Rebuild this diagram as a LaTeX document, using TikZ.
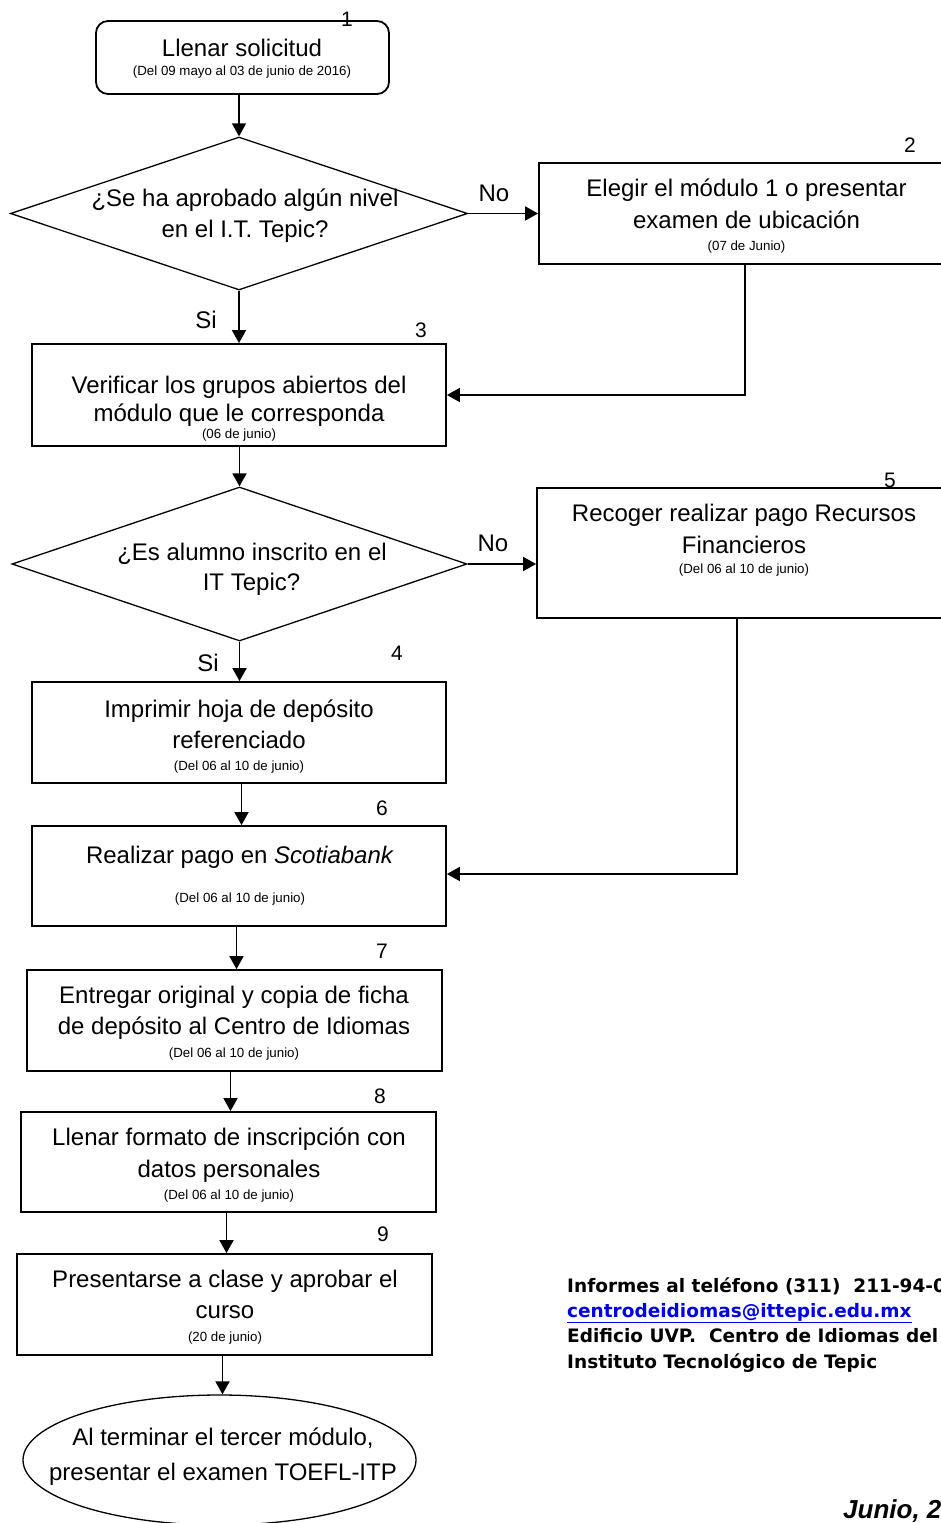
\documentclass[tikz,border=0pt]{standalone}
\usepackage{fontspec}
\setmainfont{Liberation Sans}
\newfontfamily\infofont{DejaVu Sans}
\usetikzlibrary{arrows.meta,shapes.geometric}
\definecolor{linkblue}{RGB}{0,0,230}
\begin{document}
\begin{tikzpicture}[x=1pt,y=-1pt,
  box/.style={draw, rectangle, line width=1.8pt, inner sep=0pt},
  dia/.style={draw, diamond, line width=1.3pt, inner sep=0pt},
  arr/.style={line width=1.8pt, -{Triangle[width=14pt,length=13pt]}},
  wire/.style={line width=1.8pt},
  big/.style={font=\fontsize{24}{28}\selectfont, anchor=base, inner sep=0pt},
  small/.style={font=\fontsize{13.3}{15}\selectfont, anchor=base, inner sep=0pt},
  num/.style={font=\fontsize{21}{24}\selectfont, anchor=base, inner sep=0pt},
  info/.style={font=\infofont\bfseries\fontsize{18.5}{22}\selectfont, anchor=base west, inner sep=0pt}
]
\useasboundingbox (0,0) rectangle (941,1523);
\fill[white] (0,0) rectangle (941,1523);

% shapes
\node[box, rounded corners=12pt, minimum width=293pt, minimum height=73pt] (b1) at (242.5,57.5) {};
\node[dia, minimum width=457pt, minimum height=153pt] (d1) at (239,213.5) {};
\node[box, minimum width=422pt, minimum height=101pt] (b2) at (750,213.5) {};
\node[box, minimum width=414pt, minimum height=102pt] (b3) at (239,395) {};
\node[dia, minimum width=455pt, minimum height=154pt] (d2) at (239.5,564) {};
\node[box, minimum width=424pt, minimum height=130pt] (b5) at (749,553) {};
\node[box, minimum width=414pt, minimum height=101pt] (b4) at (239,732.5) {};
\node[box, minimum width=414pt, minimum height=100pt] (b6) at (239,876) {};
\node[box, minimum width=415pt, minimum height=101pt] (b7) at (234.5,1020.5) {};
\node[box, minimum width=415pt, minimum height=100pt] (b8) at (228.5,1162) {};
\node[box, minimum width=415pt, minimum height=101pt] (b9) at (224.5,1304.5) {};
\node[draw, ellipse, line width=1.3pt, inner sep=0pt, minimum width=393pt, minimum height=130pt] (el) at (219.5,1460) {};

% helper coordinates
\coordinate (c2) at (745,395);
\coordinate (c5) at (737,874);
\coordinate (k6) at (241.5,800);
\coordinate (k7) at (236.5,950);
\coordinate (k8) at (230.5,1090);
\coordinate (k9) at (226.5,1230);
\coordinate (k10) at (222.5,1375);

% connectors
\draw[arr] (b1.south -| d1.north) -- (d1.north);
\draw[arr] (d1.east) -- (b2.west);
\draw[arr] (d1.south) -- (b3.north -| d1.south);
\draw[arr] (b2.south -| c2) -- (c2) -- (b3.east |- c2);
\draw[arr] (b3.south -| d2.north) -- (d2.north);
\draw[arr] (d2.east) -- (b5.west |- d2.east);
\draw[arr] (d2.south) -- (b4.north -| d2.south);
\draw[arr] (b5.south -| c5) -- (c5) -- (b6.east |- c5);
\draw[arr] (b4.south -| k6) -- (b6.north -| k6);
\draw[arr] (b6.south -| k7) -- (b7.north -| k7);
\draw[arr] (b7.south -| k8) -- (b8.north -| k8);
\draw[arr] (b8.south -| k9) -- (b9.north -| k9);
\draw[arr] (b9.south -| k10) -- (el.north -| k10);

% texts
\node[big] (t1a) at (242,56) {Llenar solicitud};
\node[small] (t1b) at (242,75) {(Del 09 mayo al 03 de junio de 2016)};
\node[num] (n1) at (347,27) {1};

\node[big] (td1a) at (245,206) {¿Se ha aprobado algún nivel};
\node[big] (td1b) at (245,237) {en el I.T. Tepic?};
\node[big] (no1) at (494,201) {No};
\node[big] (si1) at (206,328) {Si};
\node[num] (n3) at (421,337) {3};

\node[big] (t2a) at (746.5,196) {Elegir el módulo 1 o presentar};
\node[big] (t2b) at (746.5,228) {examen de ubicación};
\node[small] (t2c) at (746.5,250) {(07 de Junio)};
\node[num] (n2) at (910,152) {2};

\node[big] (t3a) at (239,393) {Verificar los grupos abiertos del};
\node[big] (t3b) at (239,421) {módulo que le corresponda};
\node[small] (t3c) at (239,438) {(06 de junio)};

\node[big] (td2a) at (252,560) {¿Es alumno inscrito en el};
\node[big] (td2b) at (251.5,590) {IT Tepic?};
\node[big] (no2) at (493,551) {No};
\node[big] (si2) at (208,671) {Si};
\node[num] (n4) at (397,660) {4};

\node[big] (t5a) at (744,521) {Recoger realizar pago Recursos};
\node[big] (t5b) at (744,553) {Financieros};
\node[small] (t5c) at (744,573) {(Del 06 al 10 de junio)};
\node[num] (n5) at (890,487) {5};

\node[big] (t4a) at (239,717) {Imprimir hoja de depósito};
\node[big] (t4b) at (239,748) {referenciado};
\node[small] (t4c) at (239,770) {(Del 06 al 10 de junio)};

\node[num] (n6) at (382,815) {6};
\node[big] (t6a) at (240,863) {Realizar pago en \textit{Scotiabank}};
\node[small] (t6b) at (240,902) {(Del 06 al 10 de junio)};

\node[num] (n7) at (382,958) {7};
\node[big] (t7a) at (234,1003) {Entregar original y copia de ficha};
\node[big] (t7b) at (234,1034) {de depósito al Centro de Idiomas};
\node[small] (t7c) at (234,1057) {(Del 06 al 10 de junio)};

\node[num] (n8) at (380,1103) {8};
\node[big] (t8a) at (229,1145) {Llenar formato de inscripción con};
\node[big] (t8b) at (229,1177) {datos personales};
\node[small] (t8c) at (229,1199) {(Del 06 al 10 de junio)};

\node[num] (n9) at (383,1241) {9};
\node[big] (t9a) at (225,1287) {Presentarse a clase y aprobar el};
\node[big] (t9b) at (225,1318) {curso};
\node[small] (t9c) at (225,1341) {(20 de junio)};

\node[big] (tea) at (223,1445) {Al terminar el tercer módulo,};
\node[big] (teb) at (223,1480) {presentar el examen TOEFL-ITP};

% info block
\node[info] (i1) at (567,1292) {Informes al teléfono (311)\ \ 211-94-00};
\node[info] (i2) at (567,1317) {\textcolor{linkblue}{\underline{centrodeidiomas@ittepic.edu.mx}}};
\node[info] (i3) at (567,1342) {Edificio UVP.\ \ Centro de Idiomas del};
\node[info] (i4) at (567,1368) {Instituto Tecnológico de Tepic};

\node[font=\bfseries\itshape\fontsize{26}{30}\selectfont, anchor=base west, inner sep=0pt] (jun) at (843,1518) {Junio, 2016};
\end{tikzpicture}
\end{document}
